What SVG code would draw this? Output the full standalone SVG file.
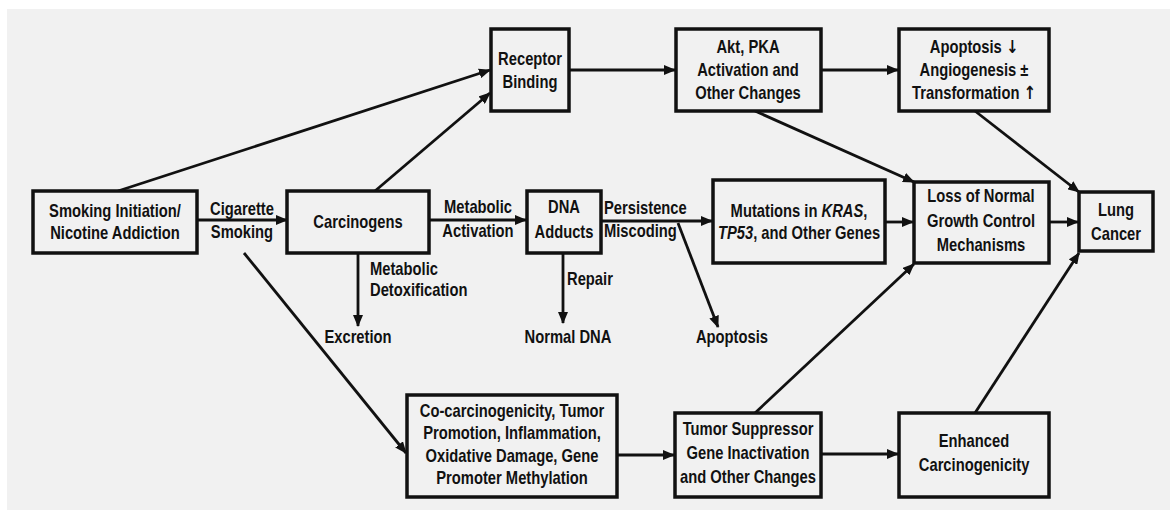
<svg xmlns="http://www.w3.org/2000/svg" width="1170" height="510" viewBox="0 0 1170 510">
<style>
.box{fill:#f1f1f1;stroke:#111;stroke-width:3.5}
.t{font-family:"Liberation Sans Narrow","Arial Narrow","Liberation Sans",sans-serif;font-weight:bold;font-size:18px;fill:#111;transform-box:fill-box;transform-origin:50% 50%;transform:scaleX(0.82)}
.c{text-anchor:middle}
.l{transform-origin:0 50%}
.ar{font-family:"DejaVu Sans",sans-serif;font-weight:bold}
.ln{stroke:#111;stroke-width:2.8;fill:none;marker-end:url(#ah)}
</style>
<defs>
<marker id="ah" markerUnits="userSpaceOnUse" markerWidth="12" markerHeight="10" refX="11" refY="5" orient="auto">
<path d="M0,0 L12,5 L0,10 z" fill="#111"/>
</marker>
</defs>
<rect x="0" y="0" width="1170" height="510" fill="#fff"/>
<rect x="7" y="9" width="1163" height="501" fill="#f1f1f1"/>
<g id="connectors">
<line class="ln" x1="197" y1="220" x2="287" y2="220"/>
<line class="ln" x1="118" y1="191" x2="490" y2="70"/>
<line class="ln" x1="375" y1="191" x2="490" y2="93"/>
<line class="ln" x1="569" y1="70" x2="675" y2="70"/>
<line class="ln" x1="821" y1="70" x2="898" y2="70"/>
<line class="ln" x1="429" y1="220" x2="526" y2="220"/>
<line class="ln" x1="358" y1="253" x2="358" y2="326"/>
<line class="ln" x1="601" y1="221" x2="712" y2="221"/>
<line class="ln" x1="563" y1="253" x2="563" y2="323"/>
<line class="ln" x1="678" y1="223" x2="718" y2="327"/>
<line class="ln" x1="244" y1="253" x2="406" y2="453"/>
<line class="ln" x1="755" y1="111" x2="914" y2="182"/>
<line class="ln" x1="975" y1="111" x2="1079" y2="192"/>
<line class="ln" x1="885" y1="222" x2="913" y2="222"/>
<line class="ln" x1="1049" y1="222" x2="1078" y2="222"/>
<line class="ln" x1="617" y1="455" x2="674" y2="455"/>
<line class="ln" x1="821" y1="454" x2="898" y2="454"/>
<line class="ln" x1="755" y1="413" x2="914" y2="264"/>
<line class="ln" x1="975" y1="413" x2="1079" y2="253"/>
<text class="t c" x="242" y="215">Cigarette</text>
<text class="t c" x="242" y="238">Smoking</text>
<text class="t c" x="478" y="213">Metabolic</text>
<text class="t c" x="478" y="237">Activation</text>
<text class="t l" x="604" y="214">Persistence</text>
<text class="t l" x="604" y="237">Miscoding</text>
<text class="t l" x="370" y="275">Metabolic</text>
<text class="t l" x="370" y="296">Detoxification</text>
<text class="t l" x="567" y="285">Repair</text>
</g>
<g id="smoking">
<rect class="box" x="33" y="191" width="164" height="62"/>
<text class="t c" x="115" y="217">Smoking Initiation/</text>
<text class="t c" x="115" y="239">Nicotine Addiction</text>
</g>
<g id="carcinogens">
<rect class="box" x="287" y="191" width="142" height="62"/>
<text class="t c" x="358" y="228">Carcinogens</text>
</g>
<g id="receptor">
<rect class="box" x="491" y="29" width="78" height="82"/>
<text class="t c" x="530" y="65">Receptor</text>
<text class="t c" x="530" y="88">Binding</text>
</g>
<g id="akt">
<rect class="box" x="676" y="29" width="145" height="82"/>
<text class="t c" x="748" y="53">Akt, PKA</text>
<text class="t c" x="748" y="76">Activation and</text>
<text class="t c" x="748" y="99">Other Changes</text>
</g>
<g id="apoptosis-angiogenesis">
<rect class="box" x="899" y="29" width="150" height="82"/>
<text class="t c" x="974" y="53">Apoptosis <tspan class="ar">↓</tspan></text>
<text class="t c" x="974" y="76">Angiogenesis ±</text>
<text class="t c" x="974" y="99">Transformation <tspan class="ar">↑</tspan></text>
</g>
<g id="dna-adducts">
<rect class="box" x="527" y="191" width="74" height="62"/>
<text class="t c" x="564" y="213">DNA</text>
<text class="t c" x="564" y="238">Adducts</text>
</g>
<g id="mutations">
<rect class="box" x="713" y="180" width="172" height="83"/>
<text class="t c" x="799" y="217">Mutations in <tspan font-style="italic">KRAS</tspan>,</text>
<text class="t c" x="799" y="239"><tspan font-style="italic">TP53</tspan>, and Other Genes</text>
</g>
<g id="loss-control">
<rect class="box" x="914" y="182" width="135" height="81"/>
<text class="t c" x="981" y="202">Loss of Normal</text>
<text class="t c" x="981" y="227">Growth Control</text>
<text class="t c" x="981" y="251">Mechanisms</text>
</g>
<g id="lung-cancer">
<rect class="box" x="1079" y="192" width="74" height="59"/>
<text class="t c" x="1116" y="216">Lung</text>
<text class="t c" x="1116" y="240">Cancer</text>
</g>
<g id="excretion">
<text class="t c" x="358" y="343">Excretion</text>
</g>
<g id="normal-dna">
<text class="t c" x="568" y="343">Normal DNA</text>
</g>
<g id="apoptosis">
<text class="t c" x="732" y="343">Apoptosis</text>
</g>
<g id="co-carcinogenicity">
<rect class="box" x="407" y="395" width="210" height="102"/>
<text class="t c" x="512" y="417">Co-carcinogenicity, Tumor</text>
<text class="t c" x="512" y="439">Promotion, Inflammation,</text>
<text class="t c" x="512" y="462">Oxidative Damage, Gene</text>
<text class="t c" x="512" y="484">Promoter Methylation</text>
</g>
<g id="tumor-suppressor">
<rect class="box" x="675" y="413" width="146" height="84"/>
<text class="t c" x="748" y="435">Tumor Suppressor</text>
<text class="t c" x="748" y="459">Gene Inactivation</text>
<text class="t c" x="748" y="483">and Other Changes</text>
</g>
<g id="enhanced">
<rect class="box" x="899" y="413" width="150" height="84"/>
<text class="t c" x="974" y="447">Enhanced</text>
<text class="t c" x="974" y="471">Carcinogenicity</text>
</g>
</svg>
